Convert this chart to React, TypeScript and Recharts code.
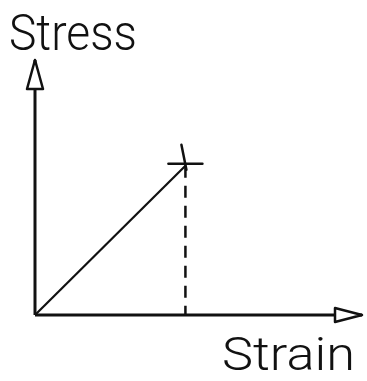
import {
  ComposedChart,
  Line,
  XAxis,
  YAxis,
  ReferenceLine,
  ReferenceDot,
} from "recharts";

// axis extents (arrow tips) and the fracture point of the specimen
const strainMax = 10;
const stressMax = 10;
const fracture = { strain: 4.6, stress: 5.85 };

// elastic loading line, straight from the origin to fracture
const loading = [
  { strain: 0, stress: 0 },
  { strain: fracture.strain, stress: fracture.stress },
];

const axisLabels = { x: "Strain", y: "Stress" };

const ink = "#111";
const font = "Roboto, 'DejaVu Sans', sans-serif";

// open arrowhead pointing up, with the y axis title above it
const UpArrow = ({ cx, cy }: any) => (
  <g>
    <path
      d={`M${cx},${cy} L${cx - 8},${cy + 29} L${cx + 8},${cy + 29} Z`}
      fill="#fff"
      stroke={ink}
      strokeWidth={2.5}
      strokeLinejoin="round"
    />
    <text
      x={cx - 26}
      y={cy - 10}
      fontFamily={font}
      fontWeight={300}
      fontSize={50}
      textLength={128}
      lengthAdjust="spacingAndGlyphs"
      fill={ink}
    >
      {axisLabels.y}
    </text>
  </g>
);

// open arrowhead pointing right, with the x axis title under it
const RightArrow = ({ cx, cy }: any) => (
  <g>
    <path
      d={`M${cx},${cy} L${cx - 27},${cy - 7} L${cx - 27},${cy + 7} Z`}
      fill="#fff"
      stroke={ink}
      strokeWidth={2.5}
      strokeLinejoin="round"
    />
    <text
      x={cx - 7}
      y={cy + 55}
      textAnchor="end"
      fontFamily={font}
      fontWeight={300}
      fontSize={47}
      textLength={133}
      lengthAdjust="spacingAndGlyphs"
      fill={ink}
    >
      {axisLabels.x}
    </text>
  </g>
);

// fracture mark: a short horizontal tick crossed by a slanted stroke
const FractureMark = ({ cx, cy }: any) => (
  <g stroke={ink} strokeWidth={2.5} strokeLinecap="round">
    <line x1={cx - 17} y1={cy - 2} x2={cx + 17} y2={cy - 2} />
    <line x1={cx - 4} y1={cy - 21} x2={cx + 1} y2={cy + 4} />
  </g>
);

export default function App() {
  return (
    <div style={{ position: "absolute", left: 0, top: 0, background: "#fff" }}>
      <ComposedChart
        width={367}
        height={381}
        data={loading}
        margin={{ top: 60, right: 5, bottom: 66, left: 35 }}
      >
        <XAxis
          type="number"
          dataKey="strain"
          domain={[0, strainMax]}
          hide
        />
        <YAxis type="number" domain={[0, stressMax]} hide />

        {/* axes drawn as plain segments, arrowheads sit on top */}
        <ReferenceLine
          segment={[
            { x: 0, y: 0 },
            { x: strainMax, y: 0 },
          ]}
          stroke={ink}
          strokeWidth={3}
        />
        <ReferenceLine
          segment={[
            { x: 0, y: 0 },
            { x: 0, y: stressMax },
          ]}
          stroke={ink}
          strokeWidth={3}
        />

        {/* drop line from fracture down to the strain axis */}
        <ReferenceLine
          segment={[
            { x: fracture.strain, y: fracture.stress },
            { x: fracture.strain, y: 0 },
          ]}
          stroke={ink}
          strokeWidth={2.5}
          strokeDasharray="12 8"
        />

        <Line
          dataKey="stress"
          type="linear"
          stroke={ink}
          strokeWidth={2.2}
          dot={false}
          activeDot={false}
          isAnimationActive={false}
        />

        <ReferenceDot x={0} y={stressMax} r={0} shape={UpArrow} />
        <ReferenceDot x={strainMax} y={0} r={0} shape={RightArrow} />
        <ReferenceDot
          x={fracture.strain}
          y={fracture.stress}
          r={0}
          shape={FractureMark}
        />
      </ComposedChart>
    </div>
  );
}
